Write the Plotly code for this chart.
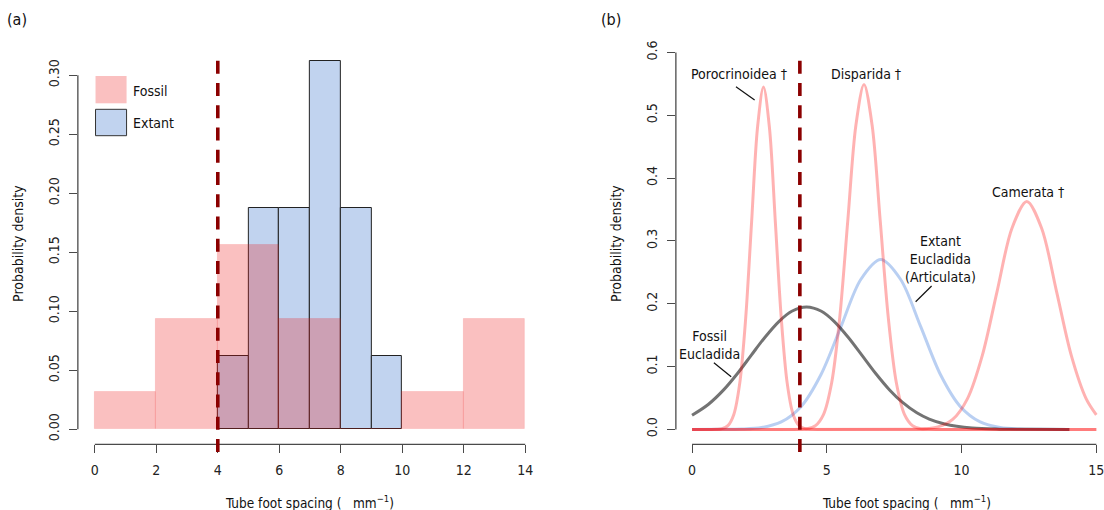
import plotly.graph_objects as go

# ---------------- data ----------------
# (a) histograms (probability density)
fossil_bin_left = [0, 2, 4, 6, 8, 10, 12]
fossil_density = [0.03125, 0.09375, 0.15625, 0.09375, 0.0, 0.03125, 0.09375]
extant_bin_left = [4, 5, 6, 7, 8, 9]
extant_density = [0.0625, 0.1875, 0.1875, 0.3125, 0.1875, 0.0625]
hist_xticks = [0, 2, 4, 6, 8, 10, 12, 14]
hist_yticks = [0.0, 0.05, 0.10, 0.15, 0.20, 0.25, 0.30]

# (b) density curves
poro_x = [0, 0.89, 1.11, 1.33, 1.55, 1.77, 1.99, 2.21, 2.43, 2.65, 2.87, 3.09, 3.31, 3.53, 3.75, 3.97, 4.19, 4.41, 8, 15]
poro_y = [0, 0.0002, 0.0012, 0.0060, 0.0239, 0.0737, 0.177, 0.3305, 0.481, 0.545, 0.481, 0.3305, 0.177, 0.0737, 0.0239, 0.0060, 0.0012, 0.0002, 0, 0]
disp_x = [0, 3.98, 4.28, 4.58, 4.88, 5.18, 5.48, 5.78, 6.08, 6.38, 6.68, 6.98, 7.28, 7.58, 7.88, 8.18, 8.48, 8.78, 12, 15]
disp_y = [0, 0.0002, 0.0012, 0.0061, 0.0241, 0.0743, 0.1783, 0.333, 0.4845, 0.549, 0.4845, 0.333, 0.1783, 0.0743, 0.0241, 0.0061, 0.0012, 0.0002, 0, 0]
came_x = [0, 8.02, 8.57, 9.12, 9.67, 10.22, 10.77, 11.32, 11.87, 12.42, 12.97, 13.52, 14.07, 14.62, 15]
came_y = [0, 0.0001, 0.0008, 0.0040, 0.0159, 0.0491, 0.1179, 0.2202, 0.3203, 0.363, 0.3203, 0.2202, 0.1179, 0.0491, 0.0232]
ext_x = [0, 1.10, 1.84, 2.58, 3.31, 4.05, 4.79, 5.53, 6.26, 7.0, 7.74, 8.48, 9.21, 9.95, 10.69, 11.43, 12.16, 12.90, 14]
ext_y = [0, 0.0001, 0.0006, 0.0030, 0.0119, 0.0366, 0.0878, 0.1641, 0.2387, 0.2705, 0.2387, 0.1641, 0.0878, 0.0366, 0.0119, 0.0030, 0.0006, 0.0001, 0]
fos_x = [0, 0.6, 1.18, 1.7, 2.2, 2.7, 3.23, 3.7, 4.25, 4.8, 5.27, 5.8, 6.3, 6.8, 7.32, 7.8, 8.34, 8.8, 9.37, 10.39, 11.41, 12.43, 14]
fos_y = [0.0226, 0.0397, 0.0633, 0.0898, 0.1183, 0.1464, 0.1721, 0.1881, 0.195, 0.1881, 0.1721, 0.1464, 0.1183, 0.0898, 0.0633, 0.0433, 0.0264, 0.0164, 0.0086, 0.0022, 0.0004, 0.0001, 0]
dens_xticks = [0, 5, 10, 15]
dens_yticks = [0.0, 0.1, 0.2, 0.3, 0.4, 0.5, 0.6]

threshold = 4

# ---------------- styling ----------------
W, H = 1104, 510
FONT = "Liberation Sans Narrow, DejaVu Sans Condensed, Open Sans, sans-serif"
AXC = "#4a4a4a"
FOSSIL_FILL = "rgba(238,22,22,0.27)"
EXTANT_FILL = "#c1d3ef"
PINK = "rgba(255,0,0,0.30)"
BLUE = "rgba(70,130,220,0.38)"
GREY = "rgba(0,0,0,0.55)"
DARKRED = "#8b0000"


def px(xp):
    return xp / W


def py(yp):
    return 1 - yp / H


fig = go.Figure()

fig.add_trace(go.Bar(x=extant_bin_left, y=extant_density, width=1, offset=0,
                     marker=dict(color=EXTANT_FILL, line=dict(color="#222222", width=1)),
                     xaxis="x", yaxis="y", showlegend=False))
fig.add_trace(go.Bar(x=fossil_bin_left, y=fossil_density, width=2, offset=0,
                     marker=dict(color=FOSSIL_FILL, line=dict(color="rgba(238,22,22,0.12)", width=1)),
                     xaxis="x", yaxis="y", showlegend=False))

for xs, ys, col in [(ext_x, ext_y, BLUE), (fos_x, fos_y, GREY),
                    (poro_x, poro_y, PINK), (disp_x, disp_y, PINK), (came_x, came_y, PINK)]:
    fig.add_trace(go.Scatter(x=xs, y=ys, mode="lines",
                             line=dict(color=col, width=3, shape="spline", smoothing=0.9),
                             xaxis="x2", yaxis="y2", showlegend=False, hoverinfo="skip"))

tickfont = dict(family=FONT, size=14, color="#222222")
common = dict(showgrid=False, zeroline=False, showline=False, ticks="outside",
              ticklen=8, tickwidth=1.2, tickcolor=AXC, tickfont=tickfont,
              ticklabeloverflow="allow")

fig.update_layout(
    width=W, height=H, margin=dict(l=0, r=0, t=0, b=0),
    paper_bgcolor="white", plot_bgcolor="white", barmode="overlay", bargap=0,
    xaxis=dict(domain=[px(78), px(543.4)], range=[-0.552, 14.56], anchor="y",
               tickmode="array", tickvals=hist_xticks, ticklabelstandoff=5, **common),
    yaxis=dict(domain=[py(444.3), py(46)], range=[-0.0127, 0.3248], anchor="x",
               tickmode="array", tickvals=hist_yticks, ticklabelstandoff=4,
               ticktext=["%.2f" % v for v in hist_yticks], tickangle=-90, **common),
    xaxis2=dict(domain=[px(677.1), 1.0], range=[-0.6, 15.21], anchor="y2",
                tickmode="array", tickvals=dens_xticks, ticklabelstandoff=5, **common),
    yaxis2=dict(domain=[py(444.3), py(37.5)], range=[-0.0237, 0.6239], anchor="x2",
                tickmode="array", tickvals=dens_yticks, ticklabelstandoff=4,
                ticktext=["%.1f" % v for v in dens_yticks], tickangle=-90, **common),
)

shapes = []
# R-style axis lines spanning first to last tick
shapes.append(dict(type="line", xref="x", yref="y domain", x0=hist_xticks[0], x1=hist_xticks[-1],
                   y0=0, y1=0, line=dict(color=AXC, width=1.3)))
shapes.append(dict(type="line", xref="x domain", yref="y", x0=0, x1=0,
                   y0=hist_yticks[0], y1=hist_yticks[-1], line=dict(color=AXC, width=1.3)))
shapes.append(dict(type="line", xref="x2", yref="y2 domain", x0=dens_xticks[0], x1=dens_xticks[-1],
                   y0=0, y1=0, line=dict(color=AXC, width=1.3)))
shapes.append(dict(type="line", xref="x2 domain", yref="y2", x0=0, x1=0,
                   y0=dens_yticks[0], y1=dens_yticks[-1], line=dict(color=AXC, width=1.3)))
# threshold dashed lines (start at the bottom so the dash phase matches)
for xr in ["x", "x2"]:
    shapes.append(dict(type="line", xref=xr, yref="paper", x0=threshold, x1=threshold,
                       y0=py(452), y1=py(58), layer="above",
                       line=dict(color=DARKRED, width=3.6, dash="13px,9.25px")))
# legend boxes (panel a)
shapes.append(dict(type="rect", xref="paper", yref="paper", x0=px(95.7), x1=px(126.8),
                   y0=py(103.3), y1=py(76), fillcolor=FOSSIL_FILL, line=dict(width=0)))
shapes.append(dict(type="rect", xref="paper", yref="paper", x0=px(95.7), x1=px(126.8),
                   y0=py(135.7), y1=py(109.3), fillcolor=EXTANT_FILL, line=dict(color="#333333", width=1)))
# leader lines (panel b)
for (x0, y0, x1, y1) in [(737.3, 86.7, 756, 100), (933.3, 286, 917.3, 301.7), (715.2, 362.7, 732.5, 376.7)]:
    shapes.append(dict(type="line", xref="paper", yref="paper", x0=px(x0), y0=py(y0), x1=px(x1), y1=py(y1),
                       line=dict(color="#111111", width=1.2)))
fig.update_layout(shapes=shapes)

ann = []


def add_text(text, xp, yp, size=14, xanchor="center", angle=0):
    ann.append(dict(text=text, x=px(xp), y=py(yp), xref="paper", yref="paper", showarrow=False,
                    xanchor=xanchor, yanchor="middle", textangle=angle,
                    font=dict(family=FONT, size=size, color="#111111")))


add_text("(a)", 17, 20, size=16)
add_text("(b)", 612, 20, size=16)
add_text("Fossil", 131.4, 91, xanchor="left")
add_text("Extant", 131.4, 123.3, xanchor="left")
xt = "Tube foot spacing (\u00a0\u00a0\u00a0mm<sup>\u22121</sup>)"
add_text(xt, 310.5, 501.7, size=13.5)
add_text(xt, 908, 501.7, size=13.5)
add_text("Probability density", 18, 243, angle=-90)
add_text("Probability density", 617, 243, angle=-90)
add_text("Porocrinoidea \u2020", 740.5, 74)
add_text("Disparida \u2020", 868, 74)
add_text("Camerata \u2020", 1030, 191.7)
add_text("Extant<br>Eucladida<br>(Articulata)", 942.7, 258.5)
add_text("Fossil<br>Eucladida", 711, 344.5)
fig.update_layout(annotations=ann)

fig.write_html("out.html", include_plotlyjs=True, config={"displayModeBar": False},
               post_script="document.body.style.margin='0';document.body.style.overflow='hidden';")
